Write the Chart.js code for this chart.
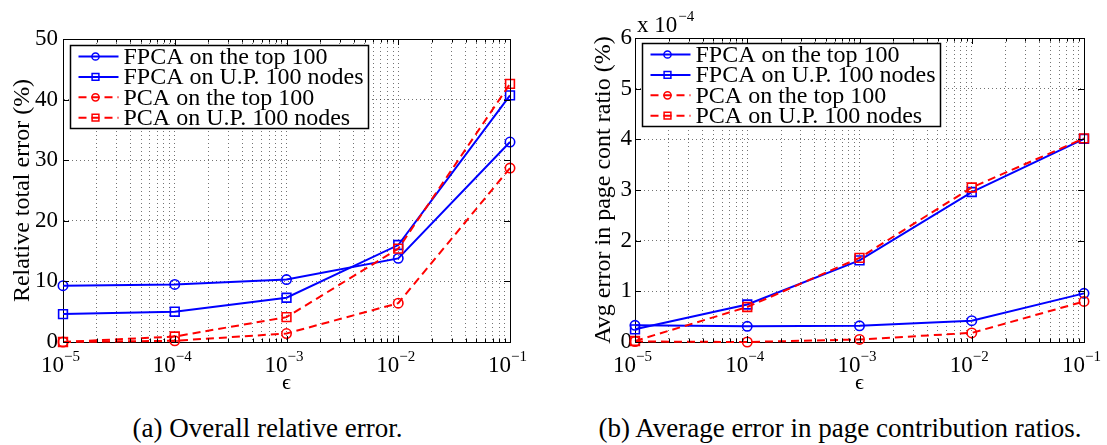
<!DOCTYPE html>
<html><head><meta charset="utf-8">
<script src="https://cdn.jsdelivr.net/npm/chart.js@4.4.0/dist/chart.umd.min.js"></script>
<style>
html,body{margin:0;padding:0;background:#fff;overflow:hidden;width:1107px;height:445px;font-family:"Liberation Serif",serif}
#wa{position:absolute;left:0;top:0;width:535px;height:413px}
#wb{position:absolute;left:573px;top:0;width:534px;height:413px}
.cap{position:absolute;top:413px;height:32px;line-height:30px;font-size:27px;color:#000;text-align:center;white-space:nowrap}
#capa{left:0;width:535px}
#capb{left:573px;width:534px}
</style></head><body>
<div id="wa"><canvas id="ca"></canvas></div>
<div id="wb"><canvas id="cb"></canvas></div>
<div class="cap" id="capa"></div>
<div class="cap" id="capb"></div>
<script>
// ---------- data ----------
const epsilonValues = [1e-5, 1e-4, 1e-3, 1e-2, 1e-1];
const xTickExponents = [-5, -4, -3, -2, -1];
const seriesLabels = ['FPCA on the top 100', 'FPCA on U.P. 100 nodes', 'PCA on the top 100', 'PCA on U.P. 100 nodes'];

// (a) relative total error (%)
const relErrFpcaTop = [9.3, 9.5, 10.3, 13.8, 33.0];
const relErrFpcaUP  = [4.6, 5.0, 7.3, 16.0, 40.7];
const relErrPcaTop  = [0.0, 0.2, 1.4, 6.4, 28.7];
const relErrPcaUP   = [0.0, 0.9, 4.1, 15.4, 42.6];
const leftYTicks = [0, 10, 20, 30, 40, 50];

// (b) avg error in page cont ratio (%), in units of 10^-4
const avgErrFpcaTop = [0.33, 0.31, 0.32, 0.42, 0.96];
const avgErrFpcaUP  = [0.25, 0.74, 1.61, 2.96, 4.01];
const avgErrPcaTop  = [0.01, 0.00, 0.05, 0.18, 0.80];
const avgErrPcaUP   = [0.02, 0.69, 1.66, 3.05, 4.02];
const rightYTicks = [0, 1, 2, 3, 4, 5, 6];
const rightScaleExponent = -4;

const captions = ['(a) Overall relative error.', '(b) Average error in page contribution ratios.'];
const yTitles = ['Relative total error (%)', 'Avg error in page cont ratio (%)'];
const xTitle = '\u03F5';

document.getElementById('capa').textContent = captions[0];
document.getElementById('capb').textContent = captions[1];

// ---------- styles ----------
const FONT = '"Liberation Serif", serif';
const GRID = 'rgba(0,0,0,0.55)';
const seriesStyles = [
  {color: '#0000ff', dash: [], pointStyle: 'circle', radius: 4.7},
  {color: '#0000ff', dash: [], pointStyle: 'rect', radius: 6.2},
  {color: '#ff0000', dash: [8, 5], pointStyle: 'circle', radius: 4.7},
  {color: '#ff0000', dash: [8, 5], pointStyle: 'rect', radius: 6.2}
];

function buildDatasets(seriesList) {
  return seriesList.map((vals, i) => {
    const st = seriesStyles[i];
    return {
      label: seriesLabels[i],
      data: epsilonValues.map((x, j) => ({x: x, y: vals[j]})),
      borderColor: st.color, backgroundColor: 'rgba(0,0,0,0)',
      borderWidth: 2, borderDash: st.dash,
      pointStyle: st.pointStyle, pointRadius: st.radius,
      pointBorderWidth: 1.6, pointBorderColor: st.color,
      pointBackgroundColor: 'rgba(255,255,255,0)',
      pointHoverRadius: st.radius,
      tension: 0, clip: false, fill: false,
      order: seriesList.length - i
    };
  });
}

function logGridValues() {
  const out = [];
  for (let k = 0; k < xTickExponents.length; k++) {
    const e = xTickExponents[k];
    const last = k === xTickExponents.length - 1;
    for (let m = 1; m <= (last ? 1 : 9); m++) out.push(m * Math.pow(10, e));
  }
  return out;
}

function drawMarker(ctx, style, x, y, r) {
  ctx.beginPath();
  if (style === 'circle') { ctx.arc(x, y, r, 0, Math.PI * 2); }
  else { ctx.rect(x - r, y - r, 2 * r, 2 * r); }
  ctx.stroke();
}

const figDecor = {
  id: 'figDecor',
  afterDraw(chart, args, o) {
    const ctx = chart.ctx;
    const a = chart.chartArea;
    const xs = chart.scales.x, ys = chart.scales.y;
    ctx.save();
    ctx.strokeStyle = '#000'; ctx.lineWidth = 1; ctx.setLineDash([]);
    ctx.beginPath();
    ctx.moveTo(Math.round(a.left) + 0.5, Math.round(a.top) + 0.5);
    ctx.lineTo(Math.round(a.right) + 0.5, Math.round(a.top) + 0.5);
    ctx.lineTo(Math.round(a.right) + 0.5, Math.round(a.bottom) + 0.5);
    ctx.stroke();
    ctx.beginPath();
    logGridValues().forEach(v => {
      const px = Math.round(xs.getPixelForValue(v)) + 0.5;
      const major = Math.abs(Math.log10(v) - Math.round(Math.log10(v))) < 1e-9;
      const len = major ? 6 : 3.5;
      ctx.moveTo(px, a.bottom); ctx.lineTo(px, a.bottom - len);
      ctx.moveTo(px, a.top); ctx.lineTo(px, a.top + len);
    });
    ys.ticks.forEach(t => {
      const py = Math.round(ys.getPixelForValue(t.value)) + 0.5;
      ctx.moveTo(a.left, py); ctx.lineTo(a.left + 6, py);
      ctx.moveTo(a.right, py); ctx.lineTo(a.right - 6, py);
    });
    ctx.stroke();
    ctx.fillStyle = '#000';
    xTickExponents.forEach(e => {
      const px = xs.getPixelForValue(Math.pow(10, e));
      ctx.font = '23px ' + FONT;
      ctx.textAlign = 'right'; ctx.textBaseline = 'alphabetic';
      ctx.fillText('10', px + 1, a.bottom + 30);
      ctx.font = '15px ' + FONT;
      ctx.textAlign = 'left';
      ctx.fillText('\u2212' + Math.abs(e), px + 1, a.bottom + 19);
    });
    if (o.exponent !== undefined && o.exponent !== null) {
      ctx.font = '23px ' + FONT; ctx.textAlign = 'left';
      const base = 'x 10';
      ctx.fillText(base, a.left + 2, a.top - 6);
      const w = ctx.measureText(base).width;
      ctx.font = '15px ' + FONT;
      ctx.fillText('\u2212' + Math.abs(o.exponent), a.left + 2 + w + 1, a.top - 17);
    }
    const ds = chart.data.datasets;
    ctx.font = '24px ' + FONT;
    let maxW = 0;
    ds.forEach(d => { maxW = Math.max(maxW, ctx.measureText(d.label).width); });
    const bx = Math.round(a.left + o.legendDx) + 0.5, by = Math.round(a.top + o.legendDy) + 0.5;
    const bw = Math.round(53 + maxW + 5), rowH = 20.4, bh = Math.round(rowH * ds.length + 1);
    ctx.fillStyle = '#fff'; ctx.fillRect(bx, by, bw, bh);
    ctx.strokeStyle = '#000'; ctx.lineWidth = 1.5; ctx.strokeRect(bx, by, bw, bh);
    ds.forEach((d, i) => {
      const cy = by + 11 + i * rowH;
      ctx.strokeStyle = d.borderColor; ctx.lineWidth = 2;
      ctx.setLineDash(d.borderDash || []);
      ctx.beginPath(); ctx.moveTo(bx + 8, cy); ctx.lineTo(bx + 48, cy); ctx.stroke();
      ctx.setLineDash([]); ctx.lineWidth = 1.5;
      drawMarker(ctx, d.pointStyle, bx + 25, cy, d.pointStyle === 'circle' ? 3.6 : 3.4);
      ctx.fillStyle = '#000'; ctx.textAlign = 'left'; ctx.textBaseline = 'middle';
      ctx.fillText(d.label, bx + 53, cy + 1);
    });
    ctx.restore();
  }
};

function makeChart(id, seriesList, yTicks, yMax, o) {
  return new Chart(document.getElementById(id), {
    type: 'line',
    data: {datasets: buildDatasets(seriesList)},
    plugins: [figDecor],
    options: {
      responsive: true, maintainAspectRatio: false, animation: false,
      layout: {padding: {top: o.top, right: o.right, left: 0, bottom: 0}},
      plugins: {
        legend: {display: false}, tooltip: {enabled: false}, title: {display: false},
        figDecor: {legendDx: o.legendDx, legendDy: o.legendDy, exponent: o.exponent}
      },
      scales: {
        x: {
          type: 'logarithmic', position: 'bottom',
          min: epsilonValues[0], max: epsilonValues[epsilonValues.length - 1],
          afterBuildTicks: s => { s.ticks = logGridValues().map(v => ({value: v})); },
          afterFit: s => { s.height = 71; },
          ticks: {display: false},
          grid: {color: GRID, lineWidth: 1, drawTicks: false},
          border: {display: true, color: '#000', width: 1, dash: [1, 3]},
          title: {display: true, text: xTitle, color: '#000',
                  font: {family: FONT, size: 22}, padding: {top: 0, bottom: 17}}
        },
        y: {
          type: 'linear', min: 0, max: yMax,
          afterBuildTicks: s => { s.ticks = yTicks.map(v => ({value: v})); },
          afterFit: s => { s.width = o.yWidth; },
          ticks: {color: '#000', font: {family: FONT, size: 23}, padding: o.tickPad},
          grid: {color: GRID, lineWidth: 1, drawTicks: false},
          border: {display: true, color: '#000', width: 1, dash: [1, 3]},
          title: {display: true, text: o.yTitle, color: '#000',
                  font: {family: FONT, size: 24}, padding: {top: o.titlePad, bottom: 0}}
        }
      }
    }
  });
}

function drawAll() {
  makeChart('ca', [relErrFpcaTop, relErrFpcaUP, relErrPcaTop, relErrPcaUP], leftYTicks, 50, {
    top: 39, right: 25, yWidth: 63, tickPad: 5, titlePad: 8, yTitle: yTitles[0],
    legendDx: 7, legendDy: 6, exponent: null
  });
  makeChart('cb', [avgErrFpcaTop, avgErrFpcaUP, avgErrPcaTop, avgErrPcaUP], rightYTicks, 6, {
    top: 38, right: 23, yWidth: 62, tickPad: 3, titlePad: 16, yTitle: yTitles[1],
    legendDx: 7, legendDy: 5, exponent: rightScaleExponent
  });
}
drawAll();
</script>
</body></html>
